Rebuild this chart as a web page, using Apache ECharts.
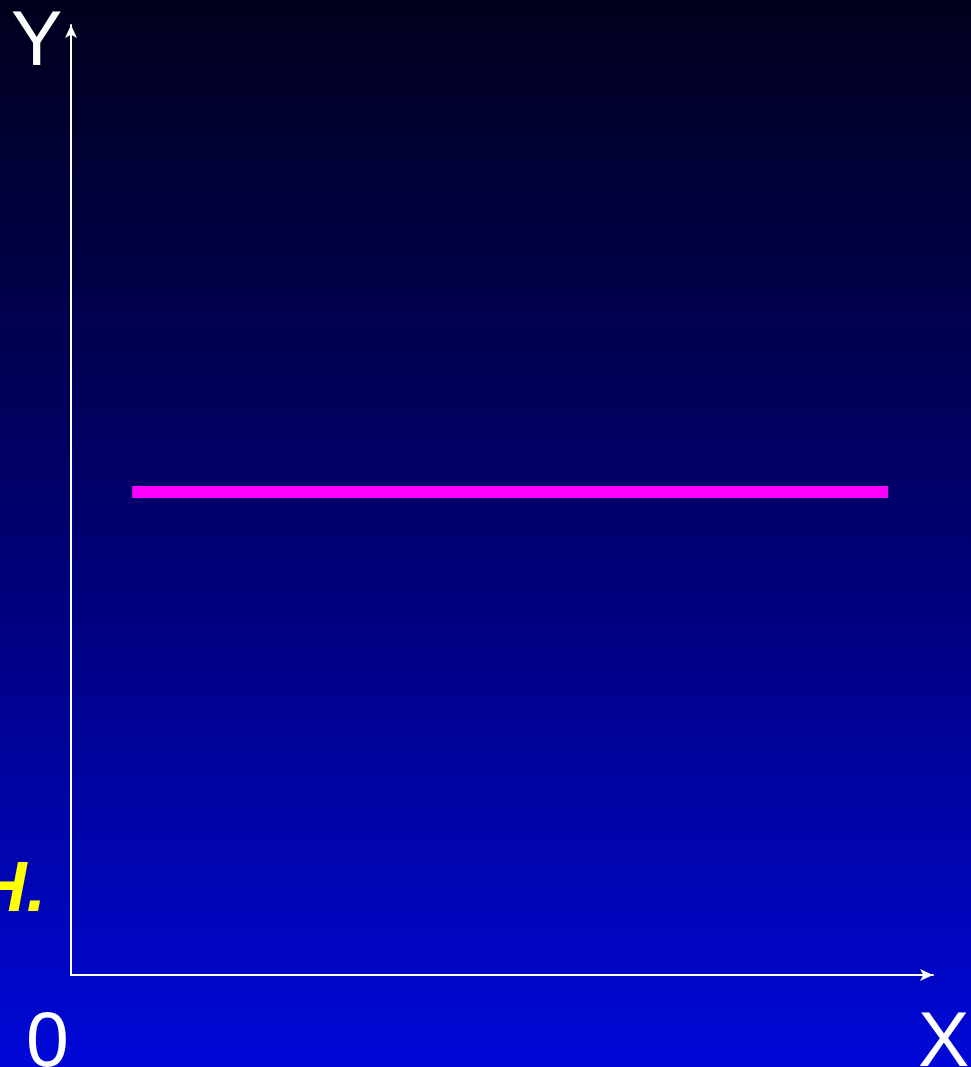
<!DOCTYPE html>
<html><head><meta charset="utf-8">
<style>html,body{margin:0;padding:0;}#c{width:971px;height:1067px;}</style>
<script src="https://cdn.jsdelivr.net/npm/echarts@6/dist/echarts.min.js"></script>
</head><body><div id="c"></div>
<script>
const lineX = [7.1, 94.8];
const lineY = [50.85, 50.85];
const xRange = [0, 100];
const yRange = [0, 100];
const originLabel = '0';
const xName = 'X';
const yName = 'Y';
const sideText = 'Н.';

const chart = echarts.init(document.getElementById('c'));
const FONT = '"Liberation Sans", Arial, sans-serif';
chart.setOption({
  animation: false,
  backgroundColor: {
    type: 'linear', x: 0, y: 0, x2: 0, y2: 1,
    colorStops: [{offset: 0, color: '#00001c'}, {offset: 0.5, color: '#000070'}, {offset: 1, color: '#0008d8'}]
  },
  grid: {left: 71, right: 38, top: 25, bottom: 92},
  xAxis: {
    type: 'value', min: xRange[0], max: xRange[1],
    axisLine: {show: true, symbol: ['none', 'arrow'], symbolSize: [9, 13], lineStyle: {color: '#ffffff', width: 2}},
    axisTick: {show: false}, axisLabel: {show: false}, splitLine: {show: false}
  },
  yAxis: {
    type: 'value', min: yRange[0], max: yRange[1],
    axisLine: {show: true, symbol: ['none', 'arrow'], symbolSize: [9, 13], lineStyle: {color: '#ffffff', width: 2}},
    axisTick: {show: false}, axisLabel: {show: false}, splitLine: {show: false}
  },
  series: [{
    type: 'line',
    data: lineX.map((x, i) => [x, lineY[i]]),
    symbol: 'none',
    lineStyle: {color: '#ff00ff', width: 12, cap: 'butt'}
  }],
  graphic: [
    {type: 'text', left: 11, top: 5, style: {text: yName, fill: '#ffffff', font: '77px ' + FONT}},
    {type: 'text', left: 918, top: 1006, style: {text: xName, fill: '#ffffff', font: '77px ' + FONT}},
    {type: 'text', left: 26, top: 1006, style: {text: originLabel, fill: '#ffffff', font: '77px ' + FONT}},
    {type: 'text', x: 46, y: 857, style: {text: sideText, fill: '#ffff00', font: 'italic bold 70px ' + FONT, align: 'right', verticalAlign: 'top'}}
  ]
});
</script></body></html>
